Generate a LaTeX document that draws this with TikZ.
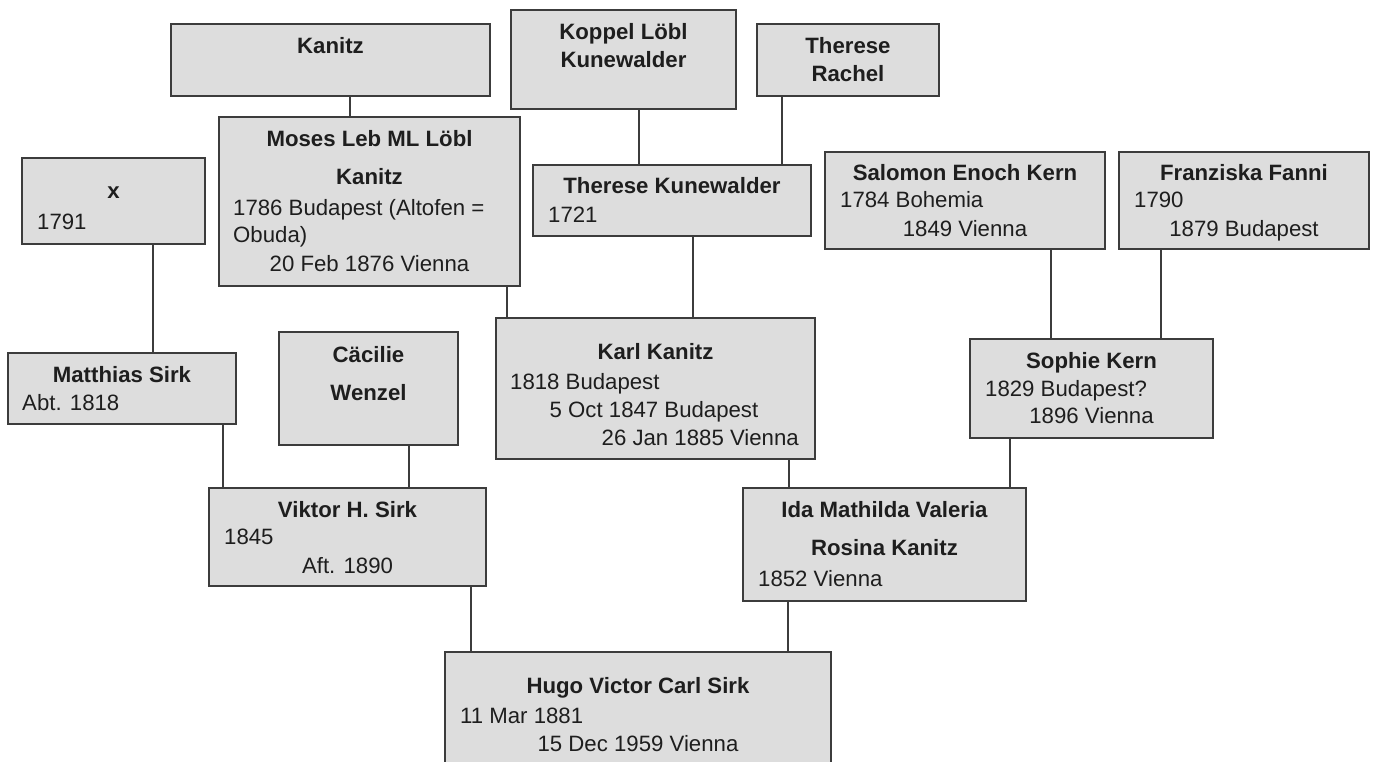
\documentclass[tikz,border=0pt]{standalone}
\usepackage{fontspec}
\setmainfont{Liberation Sans}
\definecolor{boxfill}{RGB}{221,221,221}
\definecolor{edge}{RGB}{60,60,60}
\definecolor{ink}{RGB}{30,30,30}
\tikzset{
  person/.style={draw=edge, fill=boxfill, line width=1.8pt, rectangle, inner sep=0pt, outer sep=0pt, anchor=north west},
  ttl/.style={anchor=base, inner sep=0pt, text=ink, font=\fontsize{22.2}{26}\selectfont\bfseries},
  lft/.style={anchor=base west, inner sep=0pt, text=ink, font=\fontsize{22.2}{26}\selectfont},
  mid/.style={anchor=base, inner sep=0pt, text=ink, font=\fontsize{22.2}{26}\selectfont},
  rgt/.style={anchor=base east, inner sep=0pt, text=ink, font=\fontsize{22.2}{26}\selectfont},
  link/.style={draw=edge, line width=1.8pt}
}
\begin{document}
\begin{tikzpicture}[x=1pt, y=-1pt]
\useasboundingbox (0,0) rectangle (1377,762);
\clip (0,0) rectangle (1377,762);
% boxes
\node[person, minimum width=319pt, minimum height=72pt] (kanitz) at (171,24) {};
\node[person, minimum width=225pt, minimum height=99pt] (koppel) at (511,10) {};
\node[person, minimum width=182pt, minimum height=72pt] (rachel) at (757,24) {};
\node[person, minimum width=183pt, minimum height=86pt] (xbox) at (22,158) {};
\node[person, minimum width=301pt, minimum height=169pt] (moses) at (219,117) {};
\node[person, minimum width=278pt, minimum height=71pt] (theresek) at (533,165) {};
\node[person, minimum width=280pt, minimum height=97pt] (salomon) at (825,152) {};
\node[person, minimum width=250pt, minimum height=97pt] (franziska) at (1119,152) {};
\node[person, minimum width=228pt, minimum height=71pt] (matthias) at (8,353) {};
\node[person, minimum width=179pt, minimum height=113pt] (cacilie) at (279,332) {};
\node[person, minimum width=319pt, minimum height=141pt] (karl) at (496,318) {};
\node[person, minimum width=243pt, minimum height=99pt] (sophie) at (970,339) {};
\node[person, minimum width=277pt, minimum height=98pt] (viktor) at (209,488) {};
\node[person, minimum width=283pt, minimum height=113pt] (ida) at (743,488) {};
\node[person, minimum width=386pt, minimum height=160pt] (hugo) at (445,652) {};
% connectors
\draw[link] (kanitz.south -| 350,0) -- (moses.north -| 350,0);
\draw[link] (xbox.south -| 153,0) -- (matthias.north -| 153,0);
\draw[link] (moses.south -| 507,0) -- (karl.north -| 507,0);
\draw[link] (koppel.south -| 639,0) -- (theresek.north -| 639,0);
\draw[link] (rachel.south -| 782,0) -- (theresek.north -| 782,0);
\draw[link] (theresek.south -| 693,0) -- (karl.north -| 693,0);
\draw[link] (salomon.south -| 1051,0) -- (sophie.north -| 1051,0);
\draw[link] (franziska.south -| 1161,0) -- (sophie.north -| 1161,0);
\draw[link] (matthias.south -| 223,0) -- (viktor.north -| 223,0);
\draw[link] (cacilie.south -| 409,0) -- (viktor.north -| 409,0);
\draw[link] (karl.south -| 789,0) -- (ida.north -| 789,0);
\draw[link] (sophie.south -| 1010,0) -- (ida.north -| 1010,0);
\draw[link] (viktor.south -| 471,0) -- (hugo.north -| 471,0);
\draw[link] (ida.south -| 788,0) -- (hugo.north -| 788,0);
% texts
\node[ttl] (kanitz-a) at (330.5,54) {Kanitz};
\node[ttl] (koppel-a) at (623.5,40) {Koppel Löbl};
\node[ttl] (koppel-b) at (623.5,68) {Kunewalder};
\node[ttl] (rachel-a) at (848,54) {Therese};
\node[ttl] (rachel-b) at (848,82) {Rachel};
\node[ttl] (xbox-a) at (113.5,199) {x};
\node[lft] (xbox-b) at (37,230) {1791};
\node[ttl] (moses-a) at (369.5,147) {Moses Leb ML Löbl};
\node[ttl] (moses-b) at (369.5,185) {Kanitz};
\node[lft] (moses-c) at (233,216) {1786 Budapest (Altofen =};
\node[lft] (moses-d) at (233,243) {Obuda)};
\node[mid] (moses-e) at (369.5,272) {20 Feb 1876 Vienna};
\node[ttl] (theresek-a) at (672,194) {Therese Kunewalder};
\node[lft] (theresek-b) at (548,223) {1721};
\node[ttl] (salomon-a) at (965,181) {Salomon Enoch Kern};
\node[lft] (salomon-b) at (840,208) {1784 Bohemia};
\node[mid] (salomon-c) at (965,237) {1849 Vienna};
\node[ttl] (franziska-a) at (1244,181) {Franziska Fanni};
\node[lft] (franziska-b) at (1134,208) {1790};
\node[mid] (franziska-c) at (1244,237) {1879 Budapest};
\node[ttl] (matthias-a) at (122,382) {Matthias Sirk};
\node[lft] (matthias-b) at (22,410) {Abt. 1818};
\node[ttl] (cacilie-a) at (368.5,362) {Cäcilie};
\node[ttl] (cacilie-b) at (368.5,400) {Wenzel};
\node[ttl] (karl-a) at (655.5,359) {Karl Kanitz};
\node[lft] (karl-b) at (510,389) {1818 Budapest};
\node[mid] (karl-c) at (654,417) {5 Oct 1847 Budapest};
\node[rgt] (karl-d) at (799,445) {26 Jan 1885 Vienna};
\node[ttl] (sophie-a) at (1091.5,368) {Sophie Kern};
\node[lft] (sophie-b) at (985,396) {1829 Budapest?};
\node[mid] (sophie-c) at (1091.5,423) {1896 Vienna};
\node[ttl] (viktor-a) at (347.5,517) {Viktor H. Sirk};
\node[lft] (viktor-b) at (224,544) {1845};
\node[mid] (viktor-c) at (347.5,573) {Aft. 1890};
\node[ttl] (ida-a) at (884.5,517) {Ida Mathilda Valeria};
\node[ttl] (ida-b) at (884.5,555) {Rosina Kanitz};
\node[lft] (ida-c) at (758,586) {1852 Vienna};
\node[ttl] (hugo-a) at (638,693) {Hugo Victor Carl Sirk};
\node[lft] (hugo-b) at (460,723) {11 Mar 1881};
\node[mid] (hugo-c) at (638,751) {15 Dec 1959 Vienna};
\end{tikzpicture}
\end{document}
